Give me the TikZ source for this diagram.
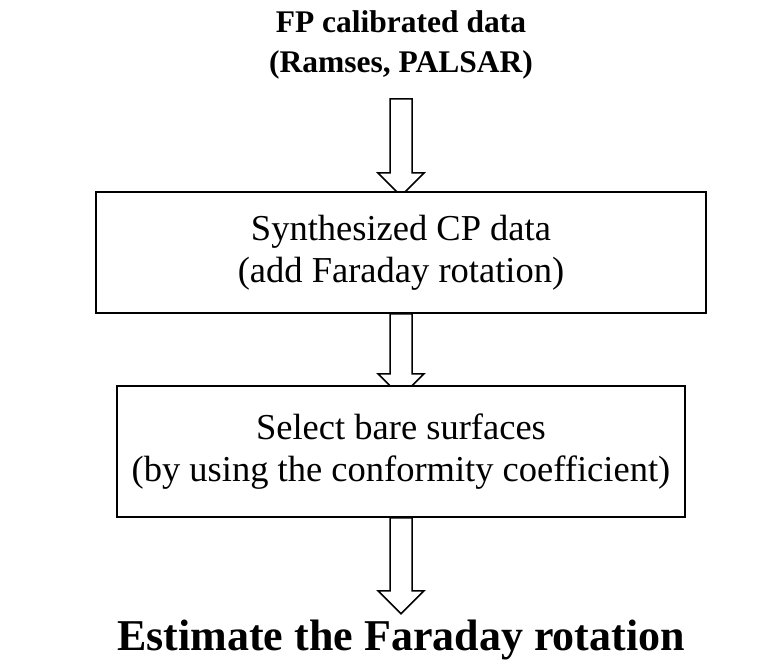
\documentclass[tikz,border=0pt]{standalone}
\usepackage{fontspec}
\setmainfont{Liberation Serif}
\usetikzlibrary{calc,backgrounds}
\begin{document}
\begin{tikzpicture}[x=1pt,y=-1pt,
  titletxt/.style={align=center,inner sep=0pt,font=\fontsize{31.5}{40}\selectfont\bfseries},
  endtxt/.style={align=center,inner sep=0pt,font=\fontsize{44}{50}\selectfont\bfseries},
  stepbox/.style={draw,line width=1.6pt,fill=white,align=center,inner sep=0pt,font=\fontsize{36.5}{42}\selectfont},
  blockarr/.style={draw,line width=1.5pt,fill=white,line join=miter}]
\useasboundingbox (0,0) rectangle (777,666);
\node[titletxt,anchor=base] (title) at (401,73) {FP calibrated data\\(Ramses, PALSAR)};
\node[stepbox,minimum width=610pt,minimum height=121pt] (b1) at (401,252.5) {Synthesized CP data\\(add Faraday rotation)};
\node[stepbox,minimum width=568pt,minimum height=131pt] (b2) at (401,451.5) {Select bare surfaces\\(by using the conformity coefficient)};
\node[endtxt,anchor=base] (est) at (401,650) {Estimate the Faraday rotation};
\coordinate (a1) at (401,99);
\begin{scope}[on background layer]
\draw[blockarr] ($(a1)+(-11,0)$) -- ++(0,74) -- ++(-12,0) -- ++(23,23) -- ++(23,-23) -- ++(-12,0) -- ++(0,-74) -- cycle;
\draw[blockarr] ($(b1.south)+(-11,0)$) -- ++(0,60) -- ++(-12,0) -- ++(23,23) -- ++(23,-23) -- ++(-12,0) -- ++(0,-60) -- cycle;
\draw[blockarr] ($(b2.south)+(-11,0)$) -- ++(0,73) -- ++(-12,0) -- ++(23,23) -- ++(23,-23) -- ++(-12,0) -- ++(0,-73) -- cycle;
\end{scope}
\end{tikzpicture}
\end{document}
